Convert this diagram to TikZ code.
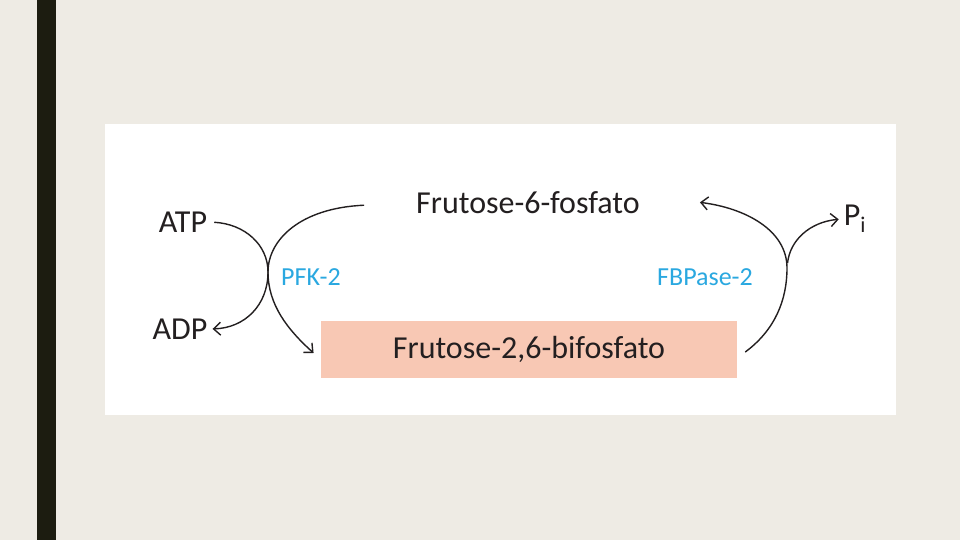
\documentclass[tikz,border=0pt]{standalone}
\usepackage{fontspec}
\setmainfont{Carlito}
\usetikzlibrary{arrows.meta, positioning}
\definecolor{slidebg}{HTML}{EEEBE4}
\definecolor{slidebar}{HTML}{1C1C10}
\definecolor{boxpink}{HTML}{F8C8B4}
\definecolor{enzblue}{HTML}{2AA8E0}
\definecolor{inkdark}{HTML}{231F20}
\tikzstyle{metab} = [text=inkdark, font=\fontsize{32}{34}\selectfont, inner sep=2pt]
\tikzstyle{enzyme} = [text=enzblue, font=\fontsize{26}{28}\selectfont, inner sep=2pt]
\tikzstyle{product} = [rectangle, fill=boxpink, text=inkdark, minimum width=416pt, minimum height=57pt, font=\fontsize{32}{34}\selectfont]
\tikzstyle{arrow} = [draw=inkdark, -{Straight Barb[length=7pt,width=13pt]}, line width=1.4pt, shorten <=5pt, shorten >=3pt]

\begin{document}
\begin{tikzpicture}[x=1pt, y=-1pt]
    % slide background
    \fill[slidebg] (0,0) rectangle (960,540);
    \useasboundingbox (0,0) rectangle (960,540);
    \fill[slidebar] (37,0) rectangle (56,540);
    \fill[white] (105,124) rectangle (896,415);

    \node (f6p) [metab] at (528,203) {Frutose-6-fosfato};
    \node (f26bp) [product] at (529,349) {Frutose-2,6-bifosfato};
    \node (atp) [metab] at (183,222) {ATP};
    \node (adp) [metab] at (180,329) {ADP};
    \node (pi) [metab] at (855,219) {P\textsubscript{i}};
    \node (pfk) [enzyme] at (311,277) {PFK-2};
    \node (fbpase) [enzyme] at (705,277) {FBPase-2};

    \coordinate (pfkmid) at (268,272);
    \coordinate (fbpmid) at (787,268);

    % PFK-2 reaction
    \draw [arrow] ([xshift=-45pt,yshift=-2pt]f6p.west) .. controls (300,208) and (268,240) .. (pfkmid)
        .. controls (268,305) and (288,330) .. ([xshift=-5pt,yshift=-6pt]f26bp.west);
    \draw [arrow] (atp.east) .. controls (245,224) and (268,245) .. (pfkmid)
        .. controls (268,305) and (245,328) .. (adp.east);

    % FBPase-2 reaction
    \draw [arrow] ([xshift=4pt,yshift=-6pt]f26bp.east) .. controls (775,330) and (787,300) .. (fbpmid)
        .. controls (787,230) and (745,208) .. ([xshift=55pt,yshift=1pt]f6p.east);
    \draw [arrow] (fbpmid) .. controls (790,240) and (810,222) .. (pi.west);
\end{tikzpicture}
\end{document}
